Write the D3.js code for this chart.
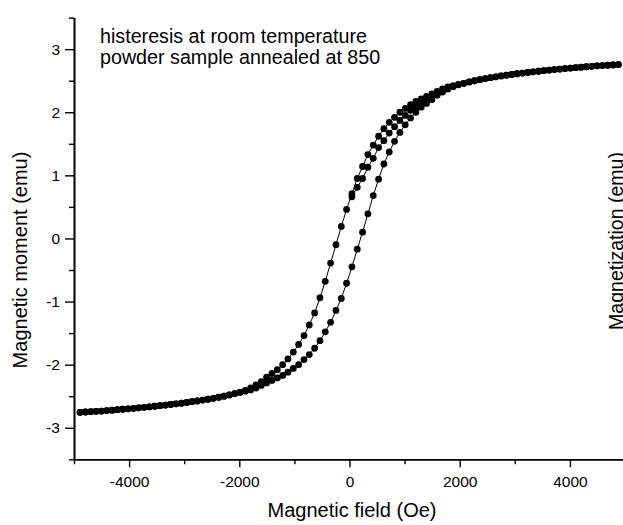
<!DOCTYPE html>
<html><head><meta charset="utf-8">
<script src="https://cdn.jsdelivr.net/npm/d3@7"></script>
<style>
body{margin:0;background:#fff}
svg{display:block;background:#fff}
text{font-family:Arial,"Liberation Sans",Helvetica,sans-serif;fill:#000}
</style>
</head><body>
<svg id="chart" width="623" height="525"></svg>
<script>
// Magnetic field values (Oe), shared by both loop branches
const fieldOe = [-4889,-4792,-4695,-4599,-4502,-4405,-4308,-4212,-4115,-4018,-3921,-3825,-3728,-3631,-3534,-3438,-3341,-3244,-3148,-3051,-2954,-2858,-2761,-2664,-2567,-2471,-2374,-2277,-2181,-2084,-1987,-1890,-1794,-1697,-1600,-1504,-1407,-1310,-1213,-1117,-1020,-923,-826,-730,-633,-536,-440,-343,-246,-149,-53,44,141,237,334,431,528,624,721,818,914,1011,1108,1205,1301,1398,1495,1591,1688,1785,1882,1978,2075,2172,2268,2365,2462,2559,2655,2752,2849,2946,3042,3139,3236,3332,3429,3526,3623,3719,3816,3913,4009,4106,4203,4300,4396,4493,4590,4686,4783,4880];
// Descending branch (from +H to -H), listed in increasing field order
const descMoment = [-2.755,-2.750,-2.745,-2.740,-2.735,-2.728,-2.721,-2.714,-2.707,-2.700,-2.692,-2.684,-2.676,-2.668,-2.659,-2.650,-2.641,-2.631,-2.621,-2.610,-2.599,-2.587,-2.575,-2.562,-2.548,-2.533,-2.517,-2.499,-2.480,-2.459,-2.436,-2.41,-2.37,-2.32,-2.27,-2.20,-2.14,-2.08,-2.00,-1.91,-1.80,-1.68,-1.54,-1.37,-1.18,-0.94,-0.68,-0.39,-0.10,0.19,0.46,0.71,0.95,1.14,1.33,1.48,1.62,1.74,1.84,1.92,2.00,2.06,2.12,2.17,2.21,2.25,2.29,2.33,2.37,2.40,2.42,2.44,2.459,2.480,2.499,2.517,2.533,2.548,2.562,2.575,2.587,2.599,2.610,2.621,2.631,2.641,2.650,2.659,2.668,2.676,2.684,2.692,2.700,2.707,2.714,2.721,2.728,2.735,2.740,2.745,2.750,2.755];
// Ascending branch (from -H to +H)
const ascMoment = [-2.755,-2.750,-2.745,-2.740,-2.735,-2.728,-2.721,-2.714,-2.707,-2.700,-2.692,-2.684,-2.676,-2.668,-2.659,-2.650,-2.641,-2.631,-2.621,-2.610,-2.599,-2.587,-2.575,-2.562,-2.548,-2.533,-2.517,-2.499,-2.480,-2.459,-2.44,-2.42,-2.40,-2.37,-2.33,-2.29,-2.25,-2.21,-2.17,-2.12,-2.06,-2.00,-1.92,-1.84,-1.74,-1.62,-1.48,-1.33,-1.14,-0.95,-0.71,-0.45,-0.17,0.10,0.39,0.68,0.94,1.18,1.37,1.54,1.68,1.80,1.91,2.00,2.08,2.14,2.20,2.27,2.32,2.37,2.41,2.436,2.459,2.480,2.499,2.517,2.533,2.548,2.562,2.575,2.587,2.599,2.610,2.621,2.631,2.641,2.650,2.659,2.668,2.676,2.684,2.692,2.700,2.707,2.714,2.721,2.728,2.735,2.740,2.745,2.750,2.755];
// Additional segment visible just below the upper part of the descending branch
const initField = [44,141,237,334,431,528,624,721,818,914,1011,1108,1205,1301,1398,1495,1591,1688,1785,1882];
const initMoment = [0.66,0.81,0.95,1.13,1.27,1.44,1.55,1.67,1.77,1.87,1.95,2.03,2.09,2.15,2.21,2.25,2.29,2.33,2.37,2.41];

const xMajorTicks = [-4000,-2000,0,2000,4000];
const xMinorTicks = [-5000,-3000,-1000,1000,3000,5000];
const yMajorTicks = [-3,-2,-1,0,1,2,3];
const yMinorTicks = [-3.5,-2.5,-1.5,-0.5,0.5,1.5,2.5,3.5];

const xTitle = "Magnetic field (Oe)";
const yTitle = "Magnetic moment (emu)";
const rightTitle = "Magnetization (emu)";
const notes = ["histeresis at room temperature","powder sample annealed at 850"];

const svg = d3.select("#chart");
const x = d3.scaleLinear().domain([-5000, 5000]).range([74, 625]);
const y = d3.scaleLinear().domain([-3.5, 3.5]).range([459.3, 17.6]);
const x0 = 74, yb = 459.3;

function styleAxis(g){
  g.selectAll("path.domain").attr("stroke","#000").attr("stroke-width",1.6);
  g.selectAll(".tick line").attr("stroke","#000").attr("stroke-width",1.4);
  g.selectAll(".tick text").attr("font-size",15.5).attr("fill","#000")
    .attr("font-family",'Arial,"Liberation Sans",sans-serif');
}

// X axis minor + major
svg.append("g").attr("transform",`translate(0,${yb})`)
  .call(d3.axisBottom(x).tickValues(xMinorTicks).tickSize(5).tickSizeOuter(0).tickFormat(""))
  .call(styleAxis);
svg.append("g").attr("transform",`translate(0,${yb})`)
  .call(d3.axisBottom(x).tickValues(xMajorTicks).tickSize(8).tickSizeOuter(0).tickPadding(9).tickFormat(d=>String(d)))
  .call(styleAxis);

// Y axis minor + major
svg.append("g").attr("transform",`translate(${x0},0)`)
  .call(d3.axisLeft(y).tickValues(yMinorTicks).tickSize(5).tickSizeOuter(0).tickFormat(""))
  .call(styleAxis);
svg.append("g").attr("transform",`translate(${x0},0)`)
  .call(d3.axisLeft(y).tickValues(yMajorTicks).tickSize(9).tickSizeOuter(0).tickPadding(5).tickFormat(d=>String(d)))
  .call(styleAxis);

// Data
const descData = fieldOe.map((h,i)=>({h, m:descMoment[i]})).reverse();
const ascData = fieldOe.map((h,i)=>({h, m:ascMoment[i]}));
const initData = initField.map((h,i)=>({h, m:initMoment[i]}));
const line = d3.line().x(d=>x(d.h)).y(d=>y(d.m));
const plot = svg.append("g");
[initData, descData, ascData].forEach(data=>{
  plot.append("path").datum(data).attr("d",line).attr("fill","none").attr("stroke","#000").attr("stroke-width",1);
});
[initData, descData, ascData].forEach(data=>{
  plot.append("g").selectAll("circle").data(data).join("circle")
    .attr("cx",d=>x(d.h)).attr("cy",d=>y(d.m)).attr("r",3.4).attr("fill","#000");
});

// Titles
svg.append("text").attr("x",352).attr("y",517).attr("text-anchor","middle")
  .attr("font-size",20).text(xTitle);
svg.append("text").attr("transform","translate(27,260) rotate(-90)").attr("text-anchor","middle")
  .attr("font-size",20).text(yTitle);
svg.append("text").attr("transform","translate(623,241) rotate(-90)").attr("text-anchor","middle")
  .attr("font-size",19.5).text(rightTitle);

// Annotation
notes.forEach((t,i)=>{
  svg.append("text").attr("x",100).attr("y",43+i*20.5).attr("font-size",19.7).text(t);
});
</script>
</body></html>
